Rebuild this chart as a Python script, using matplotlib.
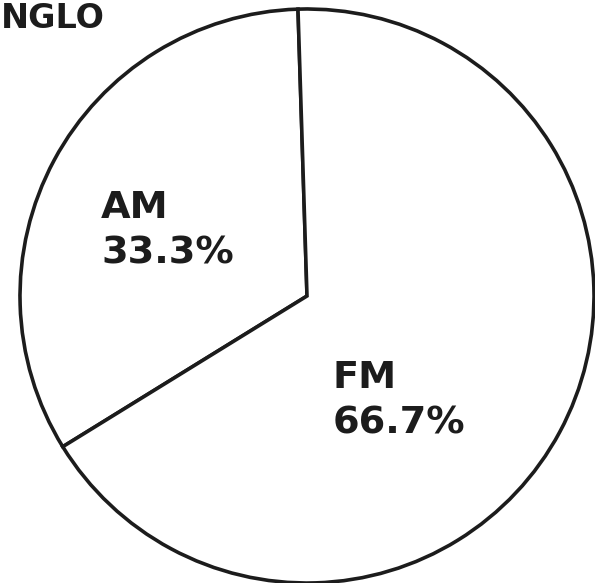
import matplotlib.pyplot as plt

# shares of listening
labels = ["AM", "FM"]
shares = [33.3, 66.7]
title_text = "NGLO"

W, H = 595, 583
fig = plt.figure(figsize=(W / 100, H / 100), dpi=100)
ax = fig.add_axes([0, 0, 1, 1])

ink = "#1c1c1c"
cx, cy, r = 307, H - 296, 287

ax.pie(shares, startangle=91.8, counterclock=True, center=(cx, cy), radius=r,
       colors=["white", "white"], frame=True,
       wedgeprops=dict(edgecolor=ink, linewidth=2.6))
ax.set_xlim(0, W)
ax.set_ylim(0, H)
ax.set_aspect("auto")
ax.axis("off")

font = dict(family="DejaVu Sans", fontweight="bold", fontsize=27.5, color=ink)

# slice labels: name over percentage
pos = {"AM": (101, 218), "FM": (333, 388)}
for name, val in zip(labels, shares):
    x, y = pos[name]
    ax.text(x, H - y, name, ha="left", va="baseline", **font)
    ax.text(x, H - y - 46, f"{val:.1f}%", ha="left", va="baseline", **font)

ax.text(1, H - 28, title_text, ha="left", va="baseline",
        family="DejaVu Sans", fontweight="bold", fontsize=24, color=ink)

fig.savefig("out.png", dpi=100)
